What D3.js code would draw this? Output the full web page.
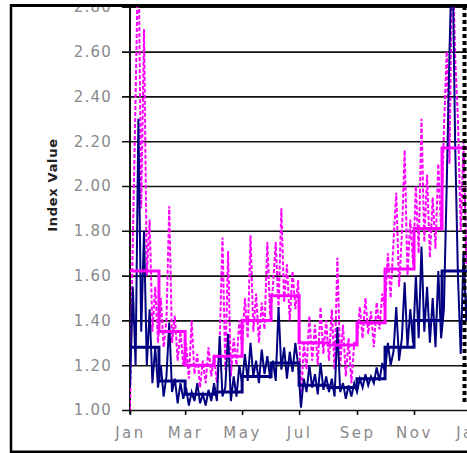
<!DOCTYPE html>
<html><head><meta charset="utf-8">
<script src="https://cdn.jsdelivr.net/npm/d3@7"></script>
<style>html,body{margin:0;padding:0;background:#fff;overflow:hidden}</style>
</head><body>
<svg id="c" width="467" height="453"></svg>
<script>
// ---- data ----
const yTickValues = [1.0, 1.2, 1.4, 1.6, 1.8, 2.0, 2.2, 2.4, 2.6, 2.8];
const monthLabels = ["Jan", "Mar", "May", "Jul", "Sep", "Nov", "Jan"];
// monthly averages (thick steps)
const navyMonthly    = [1.28, 1.13, 1.07, 1.08, 1.15, 1.21, 1.11, 1.10, 1.14, 1.28, 1.40, 1.62];
const magentaMonthly = [1.62, 1.35, 1.20, 1.24, 1.40, 1.51, 1.30, 1.29, 1.39, 1.63, 1.81, 2.17];
// daily index values, sampled every 3 days from 1 Jan
const navyDaily = [
  1.10, 1.55, 1.20, 2.30, 1.35, 1.80, 1.20, 1.45, 1.12, 1.28, 1.10,
  1.20, 1.06, 1.15, 1.39, 1.08, 1.14, 1.03, 1.12, 1.05,
  1.10, 1.02, 1.08, 1.04, 1.12, 1.03, 1.07, 1.02, 1.09, 1.04,
  1.12, 1.04, 1.33, 1.06, 1.10, 1.34, 1.04, 1.15, 1.06, 1.20,
  1.12, 1.25, 1.13, 1.30, 1.15, 1.22, 1.12, 1.27, 1.16, 1.24, 1.14,
  1.22, 1.13, 1.46, 1.18, 1.28, 1.14, 1.26, 1.17, 1.30, 1.20,
  1.01, 1.14, 1.08, 1.20, 1.10, 1.16, 1.07, 1.21, 1.09, 1.15,
  1.08, 1.14, 1.06, 1.37, 1.08, 1.12, 1.05, 1.11, 1.06, 1.12,
  1.08, 1.14, 1.10, 1.16, 1.11, 1.15, 1.12, 1.19, 1.13, 1.21,
  1.17, 1.30, 1.20, 1.26, 1.46, 1.22, 1.32, 1.57, 1.28, 1.45, 1.30,
  1.60, 1.32, 1.73, 1.35, 1.55, 1.30, 1.50, 1.28, 1.62, 1.32,
  1.45, 2.00, 2.60, 3.10, 2.20, 1.60, 1.25, 1.70, 1.40, 1.62
];
const magentaDaily = [
  1.00, 1.75, 2.40, 3.10, 1.90, 2.70, 1.60, 1.85, 1.35, 1.55, 1.30,
  1.50, 1.28, 1.40, 1.91, 1.30, 1.42, 1.22, 1.35, 1.20,
  1.30, 1.14, 1.40, 1.16, 1.25, 1.10, 1.22, 1.12, 1.28, 1.15,
  1.24, 1.12, 1.30, 1.77, 1.18, 1.71, 1.15, 1.32, 1.20, 1.40,
  1.28, 1.50, 1.32, 1.78, 1.35, 1.52, 1.30, 1.48, 1.36, 1.75, 1.42,
  1.55, 1.75, 1.45, 1.90, 1.48, 1.65, 1.40, 1.62, 1.45, 1.58,
  1.02, 1.30, 1.18, 1.42, 1.22, 1.38, 1.20, 1.46, 1.25, 1.40,
  1.22, 1.45, 1.18, 1.68, 1.20, 1.38, 1.15, 1.32, 1.12, 1.30,
  1.30, 1.46, 1.32, 1.50, 1.34, 1.44, 1.28, 1.48, 1.36, 1.52,
  1.45, 1.70, 1.50, 1.75, 1.97, 1.55, 1.78, 2.16, 1.60, 1.85, 1.65,
  2.00, 1.70, 2.30, 1.75, 2.05, 1.68, 1.95, 1.72, 2.10, 1.80,
  2.25, 2.60, 2.10, 3.10, 2.58, 2.30, 1.80, 2.20, 1.65, 2.05
];

// ---- scales ----
const start = new Date(2001, 0, 1), end = new Date(2002, 0, 1);
const x = d3.scaleTime().domain([start, end]).range([130, 471]);
const y = d3.scaleLinear().domain([1, 2.8]).range([410, 6.8]);
const svg = d3.select("#c");
const font = "DejaVu Sans, Verdana, sans-serif";

svg.append("defs").append("clipPath").attr("id", "plot")
  .append("rect").attr("x", 130).attr("y", 6).attr("width", 340).attr("height", 405);

// gridlines (extend as left ticks)
const grid = svg.append("g").attr("transform", "translate(122,0)")
  .call(d3.axisRight(y).tickValues(yTickValues).tickSize(350).tickFormat(""));
grid.select(".domain").remove();
grid.selectAll("line").attr("stroke", "#111").attr("stroke-width", 1.6);

// y labels
const ya = svg.append("g").attr("transform", "translate(130,0)")
  .call(d3.axisLeft(y).tickValues(yTickValues).tickSize(0).tickPadding(18).tickFormat(d3.format(".2f")));
ya.select(".domain").remove();
ya.selectAll("text").attr("font-family", font).attr("font-size", 15)
  .attr("fill", "#8a8a8a").style("letter-spacing", "1.2px");

// x axis
const monthTickDates = d3.timeMonth.every(2).range(start, d3.timeDay.offset(end, 1));
const xa = svg.append("g").attr("transform", "translate(0,410)")
  .call(d3.axisBottom(x).tickValues(monthTickDates).tickSize(5).tickPadding(12)
    .tickFormat((d, i) => monthLabels[i]));
xa.select(".domain").remove();
xa.selectAll("line").attr("stroke", "#111").attr("stroke-width", 1.6);
xa.selectAll("text").attr("font-family", font).attr("font-size", 15)
  .attr("fill", "#8a8a8a").style("letter-spacing", "2.5px");

// left axis line
svg.append("line").attr("x1", 130).attr("x2", 130).attr("y1", 5).attr("y2", 414)
  .attr("stroke", "#111").attr("stroke-width", 2);

// series
const dailyDates = navyDaily.map((_, i) => d3.timeDay.offset(start, 3 * i));
const monthDates = d3.timeMonth.range(start, end).concat([end]);
const dailyLine = d3.line().x((d, i) => x(dailyDates[i])).y(d => y(d));
const stepLine = d3.line().x((d, i) => x(monthDates[i])).y(d => y(d)).curve(d3.curveStepAfter);

const g = svg.append("g").attr("clip-path", "url(#plot)");
g.append("path").attr("d", dailyLine(magentaDaily)).attr("fill", "none")
  .attr("stroke", "#ff00ff").attr("stroke-width", 2).attr("stroke-dasharray", "4,2");
g.append("path").attr("d", dailyLine(navyDaily)).attr("fill", "none")
  .attr("stroke", "#000080").attr("stroke-width", 2);
g.append("path").attr("d", stepLine(magentaMonthly.concat([magentaMonthly[11]]))).attr("fill", "none")
  .attr("stroke", "#ff00ff").attr("stroke-width", 3);
g.append("path").attr("d", stepLine(navyMonthly.concat([navyMonthly[11]]))).attr("fill", "none")
  .attr("stroke", "#000080").attr("stroke-width", 3);

// right dashed edge
svg.append("line").attr("x1", 464.5).attr("x2", 464.5).attr("y1", 6).attr("y2", 404)
  .attr("stroke", "#000").attr("stroke-width", 4).attr("stroke-dasharray", "4,3");

// y title
svg.append("text").attr("transform", "translate(57,185) rotate(-90)")
  .attr("text-anchor", "middle").attr("font-family", font).attr("font-size", 13)
  .attr("font-weight", "bold").attr("fill", "#222").style("letter-spacing", "0.7px")
  .text("Index Value");

// outer frame
svg.append("rect").attr("x", 0).attr("y", 0).attr("width", 467).attr("height", 4).attr("fill", "#fff");
svg.append("line").attr("x1", 10).attr("x2", 467).attr("y1", 5.5).attr("y2", 5.5)
  .attr("stroke", "#000").attr("stroke-width", 3);
svg.append("line").attr("x1", 11).attr("x2", 11).attr("y1", 4).attr("y2", 453)
  .attr("stroke", "#000").attr("stroke-width", 2.5);
svg.append("line").attr("x1", 10).attr("x2", 467).attr("y1", 451.8).attr("y2", 451.8)
  .attr("stroke", "#000").attr("stroke-width", 2.5);
</script>
</body></html>
